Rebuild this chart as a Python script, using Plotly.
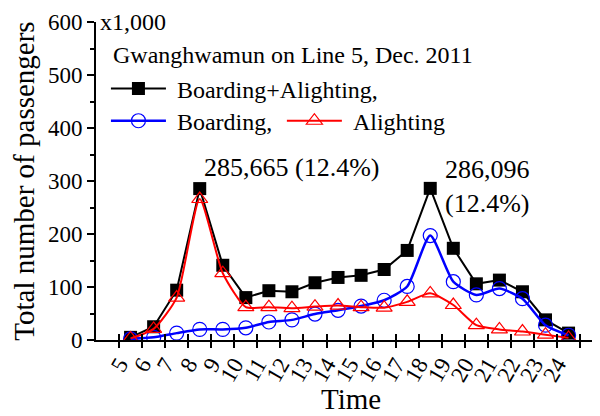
import plotly.graph_objects as go

# ---- data (x1,000 passengers) ----
hour_start = list(range(5, 25))          # hourly bins 5-6, 6-7, ..., 24-25
tick_labels = [str(h) for h in range(5, 25)]
total = [5, 25, 94, 285.665, 141, 80, 93, 91, 108, 118, 122, 133, 169, 286.096, 173, 106, 113, 91, 38, 13]
boarding = [2, 5, 13, 20, 20, 23, 34, 38, 49, 56, 64, 75, 101, 197, 110, 85, 97, 78, 28, 9]
alighting = [3, 21, 80, 266, 126, 62, 62, 60, 63, 65, 62, 61, 72, 88, 66, 28, 20, 16, 10, 4]

x_mid = [h + 0.5 for h in hour_start]
FONT = "Liberation Serif, Times New Roman, Times, serif"
NB = "\u00a0"

fig = go.Figure()
fig.add_trace(go.Scatter(
    x=x_mid, y=total, name=NB + "Boarding+Alighting,", mode="lines+markers",
    line=dict(color="black", width=2),
    marker=dict(symbol="square", size=13, color="black"),
    legend="legend"))
fig.add_trace(go.Scatter(
    x=x_mid, y=boarding, name=NB + "Boarding,", mode="lines+markers",
    line=dict(color="#0000FF", width=2.5, shape="spline", smoothing=0.6),
    marker=dict(symbol="circle-open", size=14, color="#0000FF", line=dict(width=1.2)),
    legend="legend2"))
fig.add_trace(go.Scatter(
    x=x_mid, y=alighting, name=NB + "Alighting", mode="lines+markers",
    line=dict(color="#FF0000", width=2, shape="spline", smoothing=0.6),
    marker=dict(symbol="triangle-up-open", size=14, color="#FF0000", line=dict(width=1.2)),
    legend="legend3"))

xr = [4, 25.56]
tickvals = list(range(5, 26))
ticktext = tick_labels + [""]

leg_common = dict(xanchor="left", yanchor="top", bgcolor="rgba(0,0,0,0)",
                  borderwidth=0, font=dict(family=FONT, size=24), itemwidth=55)

fig.update_layout(
    # page body adds an 8px offset; figure is sized so it fills the 600x416 window
    width=592, height=408,
    margin=dict(l=88, r=7, t=14, b=76),
    paper_bgcolor="white", plot_bgcolor="white",
    font=dict(family=FONT, size=23, color="black"),
    showlegend=True,
    xaxis=dict(
        range=xr, tickmode="array", tickvals=tickvals, ticktext=ticktext,
        tickangle=-60, ticks="outside", ticklen=6, tickwidth=2, tickcolor="black",
        showline=True, linecolor="black", linewidth=2, showgrid=False, zeroline=False,
        tickfont=dict(family=FONT, size=23), ticklabelstandoff=-6,
        automargin=False),
    xaxis2=dict(
        range=xr, overlaying="x", anchor="y", side="bottom",
        tickmode="array", tickvals=tickvals, showticklabels=False,
        ticks="inside", ticklen=6, tickwidth=2, tickcolor="black",
        showline=False, showgrid=False, zeroline=False, automargin=False),
    yaxis=dict(
        range=[0, 600], dtick=100, ticks="outside", ticklen=7, tickwidth=2,
        tickcolor="black", showline=True, linecolor="black", linewidth=2,
        showgrid=False, zeroline=False,
        minor=dict(dtick=50, ticks="outside", ticklen=4, tickwidth=2, tickcolor="black"),
        tickfont=dict(family=FONT, size=23),
        title=dict(text="Total number of passengers", font=dict(family=FONT, size=29), standoff=6),
        automargin=False),
    legend=dict(x=0.02, y=0.86, **leg_common),
    legend2=dict(x=0.02, y=0.759, **leg_common),
    legend3=dict(x=0.374, y=0.759, **leg_common),
)

# invisible trace so the overlaid tick axis renders
fig.add_trace(go.Scatter(x=[xr[0]], y=[None], xaxis="x2", yaxis="y",
                         showlegend=False, hoverinfo="skip"))

fig.add_annotation(text="x1,000", xref="paper", yref="paper", x=0.005, y=1.0,
                   xanchor="left", yanchor="middle", showarrow=False,
                   font=dict(family=FONT, size=24))
fig.add_annotation(text="Gwanghwamun on Line 5, Dec. 2011", xref="paper", yref="paper",
                   x=0.031, y=0.896, xanchor="left", yanchor="middle", showarrow=False,
                   font=dict(family=FONT, size=24))
fig.add_annotation(text="Time", xref="paper", yref="paper", x=0.513, y=-0.186,
                   xanchor="center", yanchor="middle", showarrow=False,
                   font=dict(family=FONT, size=29))
fig.add_annotation(text="285,665 (12.4%)", xref="x", yref="y",
                   x=x_mid[3], y=total[3], xshift=2, yshift=21,
                   xanchor="left", yanchor="middle", showarrow=False,
                   font=dict(family=FONT, size=26))
fig.add_annotation(text="286,096<br>(12.4%)", xref="x", yref="y",
                   x=x_mid[13], y=total[13], xshift=13, yshift=2,
                   xanchor="left", yanchor="middle", showarrow=False, align="left",
                   font=dict(family=FONT, size=26))

fig.write_html("out.html")
